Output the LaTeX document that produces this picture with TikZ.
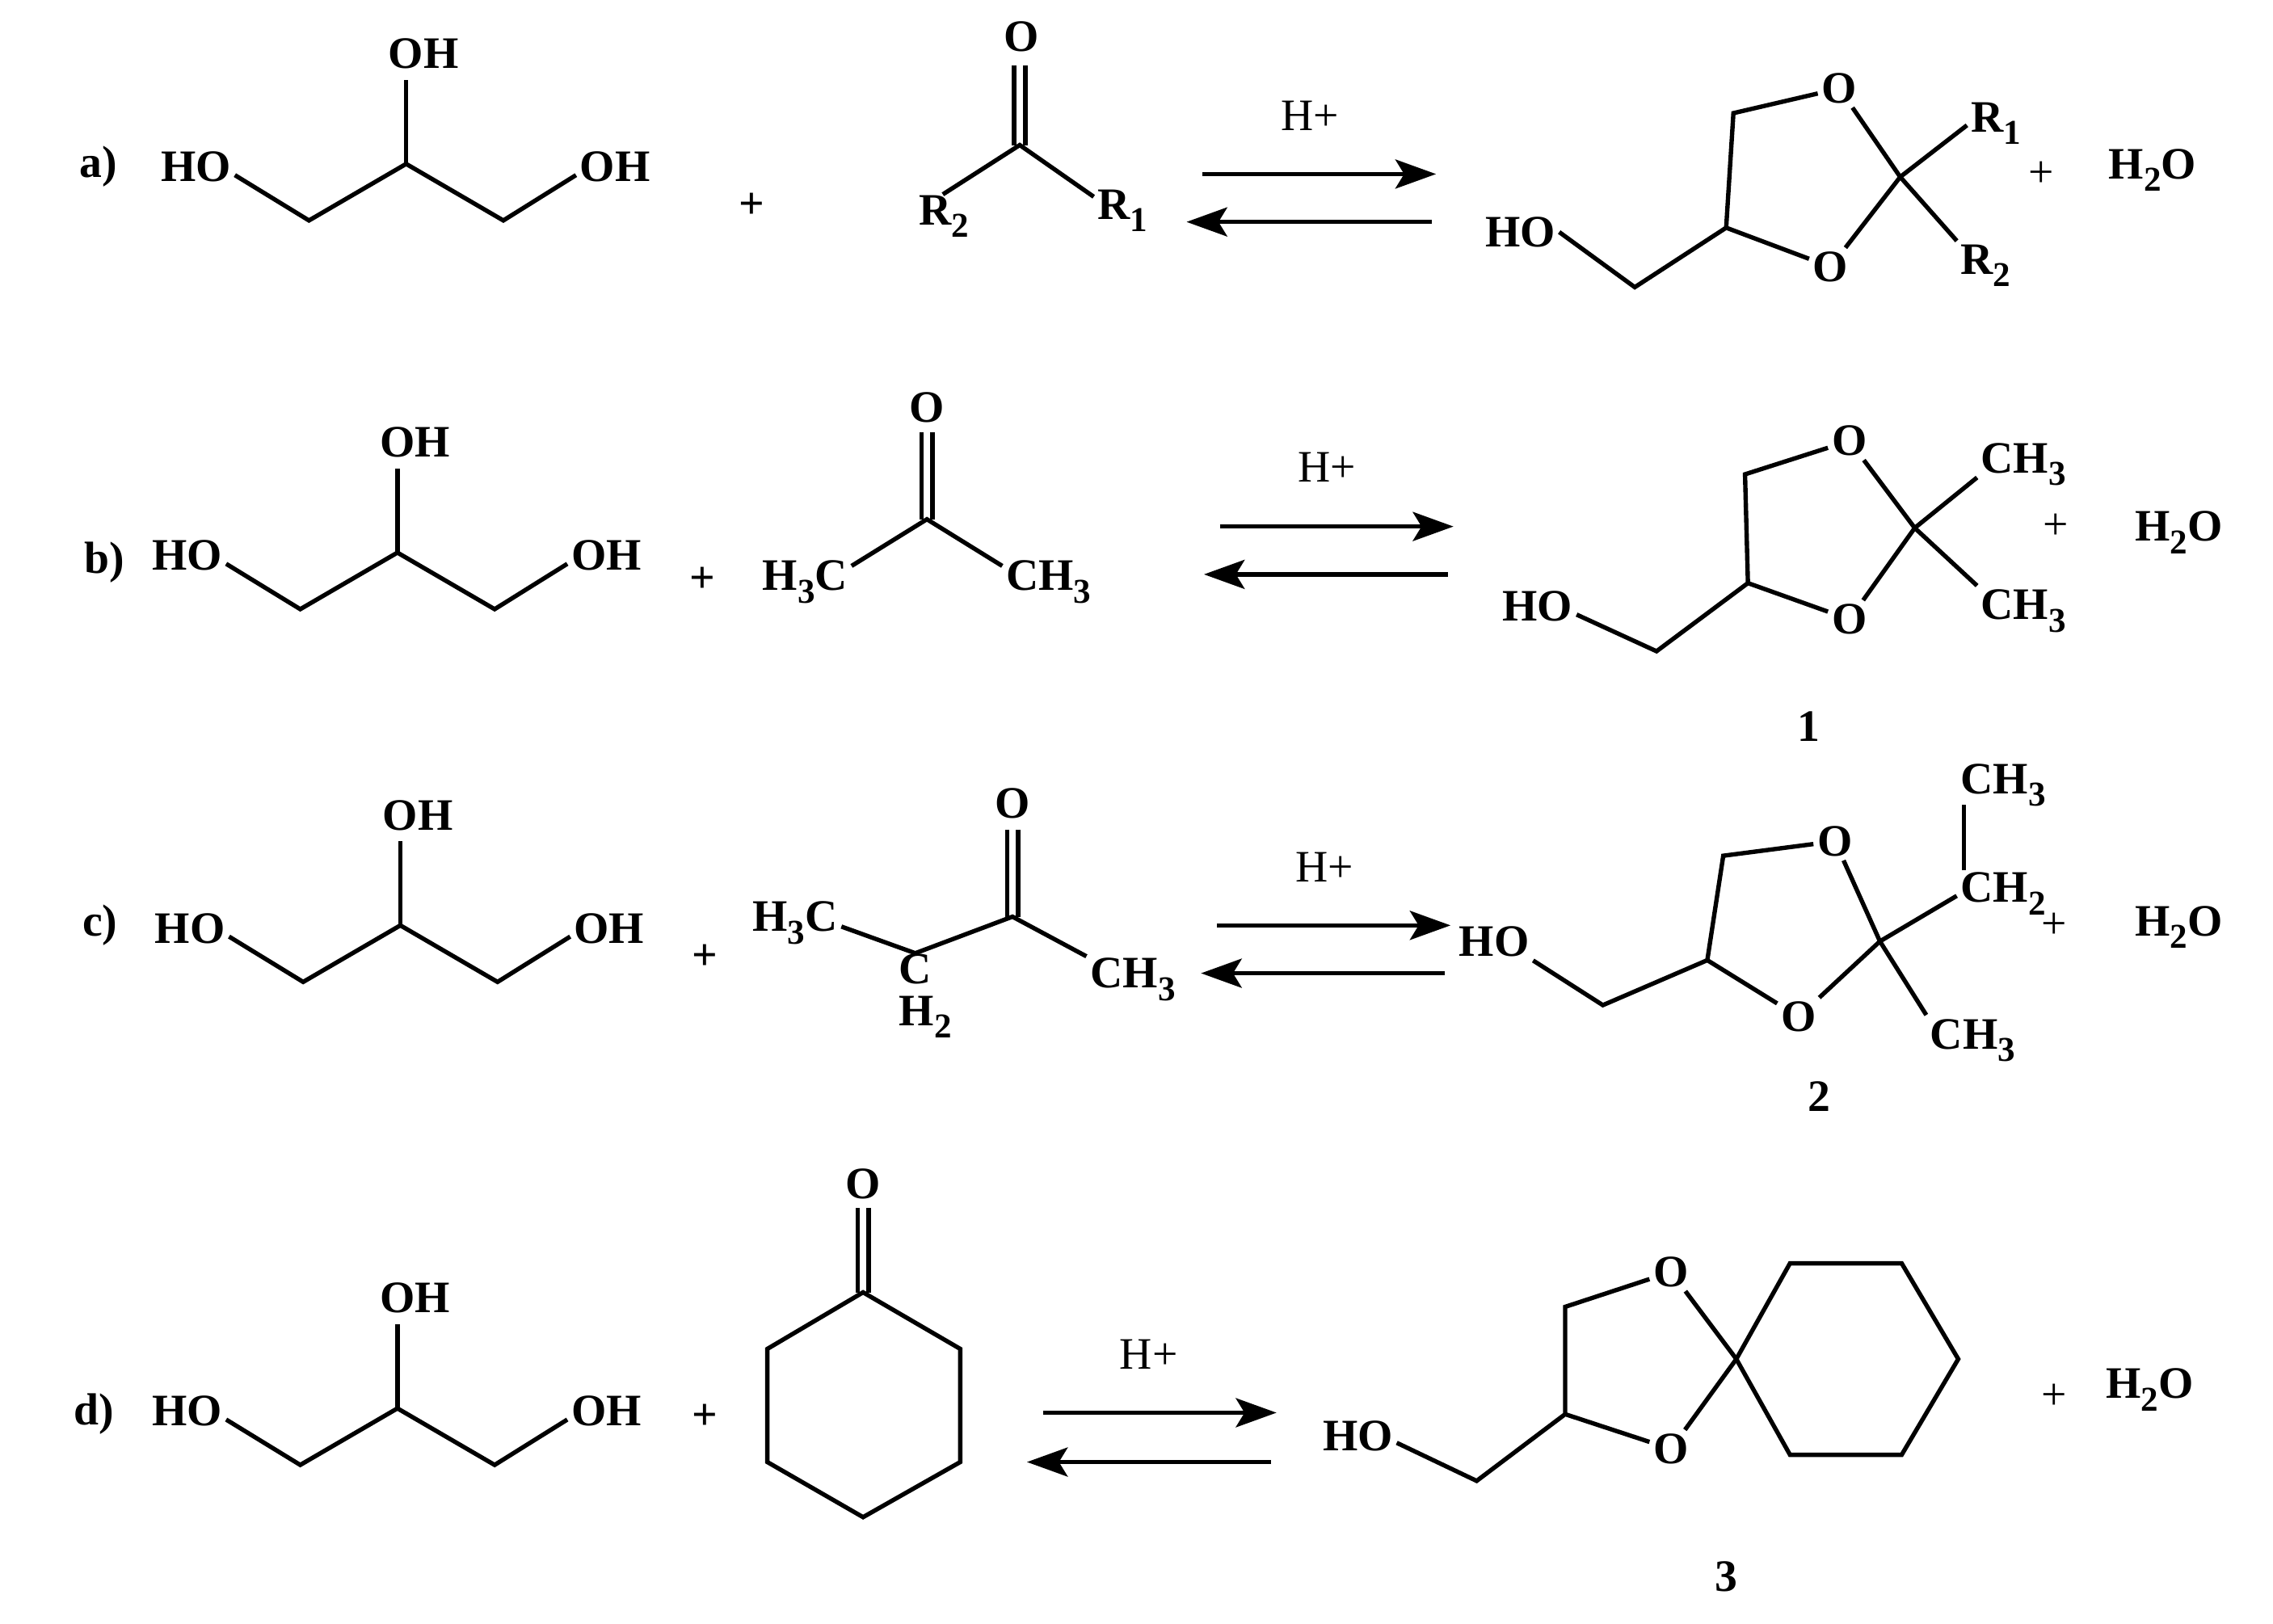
\documentclass[tikz,border=0pt]{standalone}
\usepackage{fontspec}
\setmainfont{Liberation Serif}
\usetikzlibrary{arrows.meta}
\newcommand\lowidx[1]{\smash{\raisebox{-.6ex}{\fontsize{12}{12}\selectfont #1}}}
\tikzset{
  x=0.5pt,y=-0.5pt,
  atom/.style={inner sep=1.2pt,font=\fontsize{15.5}{16}\selectfont\bfseries},
  plain/.style={inner sep=1pt,font=\fontsize{15.5}{16}\selectfont},
  tag/.style={inner sep=1pt,font=\fontsize{15.5}{16}\selectfont\bfseries},
  bond/.style={line width=1.5pt,line join=miter},
  reacarrow/.style={line width=1.5pt,-{Stealth[length=14pt,width=10pt,inset=3pt]}},
}
% double bond between two named points: O label and carbon
\newcommand\dbond[2]{%
  \draw[bond,transform canvas={xshift=-1.9pt}] (#1) -- (#2);
  \draw[bond,transform canvas={xshift=1.9pt}] (#1) -- (#2);}
% glycerol
\newcommand\glycerol[3]{%
\begin{scope}[shift={(#2,#3)},name prefix=#1]
  \node[atom] (ho) at (135,115) {HO};
  \node[atom] (oht) at (292,37) {OH};
  \node[atom] (ohr) at (424,115) {OH};
  \coordinate (c1) at (213,152);
  \coordinate (c2) at (280,113);
  \coordinate (c3) at (347,152);
  \coordinate (ht) at (280,55);
  \draw[bond] (ho.-12) -- (c1) -- (c2) -- (c3) -- (ohr.192);
  \draw[bond] (c2) -- (ht);
\end{scope}}
\begin{document}
\begin{tikzpicture}
\useasboundingbox (0,0) rectangle (1567,1119.6);
% ===== a =====
\node[tag] (la) at (68,115) {a)};
\glycerol{ga}{0}{0}
\node[plain] (pa1) at (518,142) {\bfseries +};
\node[atom] (oa) at (704,25) {O};
\coordinate (ca) at (703,100);
\node[atom] (r2a) at (651,145) {R\lowidx{2}};
\node[atom] (r1a) at (774,141) {R\lowidx{1}};
\coordinate (oab) at (703,45);
\coordinate (r2top) at (650,134);
\dbond{oab}{ca}
\draw[bond] (r2top) -- (ca) -- (r1a.165);
\coordinate (ara1) at (829,120); \coordinate (ara2) at (990,120);
\coordinate (ara3) at (987,153); \coordinate (ara4) at (818,153);
\draw[reacarrow] (ara1) -- (ara2);
\draw[reacarrow] (ara3) -- (ara4);
\node[plain] (ha) at (903,80) {H+};
\node[atom] (hoa) at (1048,160) {HO};
\node[atom] (o1a) at (1268,61) {O};
\node[atom] (o2a) at (1262,184) {O};
\node[atom] (r1b) at (1376,81) {R\lowidx{1}};
\node[atom] (r2b) at (1369,179) {R\lowidx{2}};
\coordinate (a1) at (1127,198); \coordinate (a2) at (1190,157);
\coordinate (a3) at (1195,78); \coordinate (a4) at (1310,122);
\draw[bond] (hoa.east) -- (a1) -- (a2) -- (a3) -- (o1a) -- (a4) -- (o2a) -- (a2);
\draw[bond] (a4) -- (r1b.195);
\draw[bond] (a4) -- (r2b.north west);
\node[plain] (pa2) at (1407,120) {+};
\node[atom] (wa) at (1484,113) {H\lowidx{2}O};
% ===== b =====
\node[tag] (lb) at (72,388) {b)};
\glycerol{gb}{-6}{268}
\node[plain] (pb1) at (484,400) {\bfseries +};
\node[atom] (ob) at (639,281) {O};
\coordinate (cb) at (639,358);
\coordinate (obb) at (639,298);
\node[atom] (h3cb) at (555,397) {H\lowidx{3}C};
\node[atom] (ch3b) at (723,397) {CH\lowidx{3}};
\dbond{obb}{cb}
\draw[bond] (h3cb.12) -- (cb) -- (ch3b.168);
\coordinate (arb1) at (841,363); \coordinate (arb2) at (1002,363);
\coordinate (arb3) at (998,396); \coordinate (arb4) at (830,396);
\draw[reacarrow] (arb1) -- (arb2);
\draw[reacarrow] (arb3) -- (arb4);
\node[plain] (hb) at (915,322) {H+};
\node[atom] (hob) at (1060,418) {HO};
\node[atom] (o1b) at (1275,304) {O};
\node[atom] (o2b) at (1275,427) {O};
\node[atom] (m1b) at (1395,316) {CH\lowidx{3}};
\node[atom] (m2b) at (1395,417) {CH\lowidx{3}};
\coordinate (b1) at (1142,449); \coordinate (b2) at (1205,402);
\coordinate (b3) at (1203,327); \coordinate (b4) at (1320,364);
\draw[bond] (hob.-12) -- (b1) -- (b2) -- (b3) -- (o1b) -- (b4) -- (o2b) -- (b2);
\draw[bond] (b4) -- (m1b.south west);
\draw[bond] (b4) -- (m2b.north west);
\node[plain] (pb2) at (1417,363) {+};
\node[atom] (wb) at (1502,363) {H\lowidx{2}O};
\node[tag] (n1) at (1247,501) {1};
% ===== c =====
\node[tag] (lc) at (69,638) {c)};
\glycerol{gc}{-4}{525}
\node[plain] (pc1) at (486,660) {\bfseries +};
\node[atom] (oc) at (698,554) {O};
\coordinate (cc) at (698,632);
\coordinate (ocb) at (698,572);
\node[atom] (h3cc) at (548,632) {H\lowidx{3}C};
\node[atom] (ch3c) at (781,671) {CH\lowidx{3}};
\node[atom,inner sep=0pt] (c2c) at (631,668) {C};
\node[atom] (h2c) at (638,697) {H\lowidx{2}};
\dbond{ocb}{cc}
\draw[bond] (h3cc.-12) -- (c2c.north) -- (cc) -- (ch3c.160);
\coordinate (arc1) at (839,638); \coordinate (arc2) at (1000,638);
\coordinate (arc3) at (996,671); \coordinate (arc4) at (828,671);
\draw[reacarrow] (arc1) -- (arc2);
\draw[reacarrow] (arc3) -- (arc4);
\node[plain] (hc) at (913,598) {H+};
\node[atom] (hoc) at (1030,649) {HO};
\node[atom] (o1c) at (1265,580) {O};
\node[atom] (o2c) at (1240,701) {O};
\node[atom] (ch2c) at (1381,612) {CH\lowidx{2}};
\node[atom] (m1c) at (1381,537) {CH\lowidx{3}};
\node[atom] (m2c) at (1360,713) {CH\lowidx{3}};
\coordinate (c1p) at (1105,693); \coordinate (c2p) at (1177,662);
\coordinate (c3p) at (1188,590); \coordinate (c4p) at (1296,649);
\coordinate (c5p) at (1354,600); \coordinate (c6p) at (1354,555);
\draw[bond] (hoc.south east) -- (c1p) -- (c2p) -- (c3p) -- (o1c) -- (c4p) -- (o2c) -- (c2p);
\draw[bond] (c4p) -- (ch2c.190);
\draw[bond] (c5p) -- (c6p);
\draw[bond] (c4p) -- (m2c.north west);
\node[plain] (pc2) at (1416,638) {+};
\node[atom] (wc) at (1502,635) {H\lowidx{2}O};
\node[tag] (n2) at (1254,756) {2};
% ===== d =====
\node[tag] (ld) at (65,975) {d)};
\glycerol{gd}{-6}{858}
\node[plain] (pd1) at (486,977) {\bfseries +};
\node[atom] (od) at (595,816) {O};
\coordinate (d0) at (595,891); \coordinate (d1) at (662,930);
\coordinate (d2) at (662,1008); \coordinate (d3) at (595,1046);
\coordinate (d4) at (529,1008); \coordinate (d5) at (529,930);
\coordinate (odb) at (595,833);
\dbond{odb}{d0}
\draw[bond] (d0) -- (d1) -- (d2) -- (d3) -- (d4) -- (d5) -- cycle;
\coordinate (ard1) at (719,974); \coordinate (ard2) at (880,974);
\coordinate (ard3) at (876,1008); \coordinate (ard4) at (708,1008);
\draw[reacarrow] (ard1) -- (ard2);
\draw[reacarrow] (ard3) -- (ard4);
\node[plain] (hd) at (792,934) {H+};
\node[atom] (hod) at (936,990) {HO};
\node[atom] (o1d) at (1152,877) {O};
\node[atom] (o2d) at (1152,999) {O};
\coordinate (e1) at (1018,1021); \coordinate (e2) at (1079,975);
\coordinate (e3) at (1079,901); \coordinate (e4) at (1197,937);
\coordinate (f1) at (1234,871); \coordinate (f2) at (1311,871);
\coordinate (f3) at (1350,937); \coordinate (f4) at (1311,1003);
\coordinate (f5) at (1234,1003);
\draw[bond] (hod.-10) -- (e1) -- (e2) -- (e3) -- (o1d) -- (e4) -- (o2d) -- (e2);
\draw[bond] (e4) -- (f1) -- (f2) -- (f3) -- (f4) -- (f5) -- cycle;
\node[plain] (pd2) at (1416,963) {+};
\node[atom] (wd) at (1482,954) {H\lowidx{2}O};
\node[tag] (n3) at (1190,1087) {3};
\end{tikzpicture}
\end{document}
